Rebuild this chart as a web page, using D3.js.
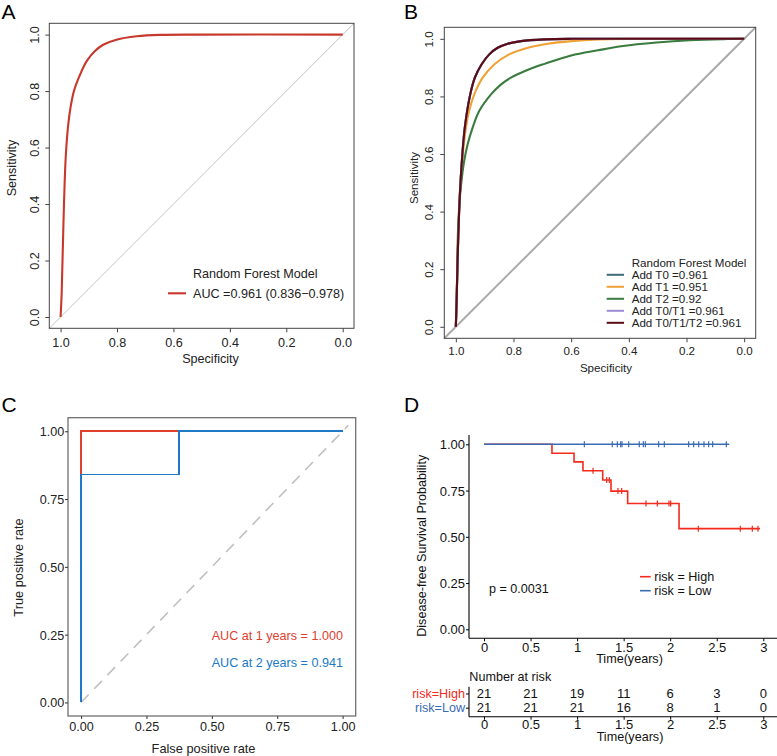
<!DOCTYPE html>
<html><head><meta charset="utf-8">
<script src="https://cdn.jsdelivr.net/npm/d3@7"></script>
<style>body{margin:0;background:#fff} svg{display:block;font-family:"Liberation Sans",Arial,sans-serif}</style>
</head><body><svg id="fig" width="777" height="756"></svg>
<script>
// ---------- DATA ----------
// Panel A / B ROC tick values
const ticksAB = [1.0, 0.8, 0.6, 0.4, 0.2, 0.0];
// Panel A: Random Forest Model
const specA = [1, 0.996, 0.990, 0.982, 0.973, 0.965, 0.953, 0.931, 0.908, 0.879, 0.849, 0.802, 0.730, 0.648, 0.5, 0];
const sensA = [0, 0.089, 0.325, 0.562, 0.680, 0.740, 0.799, 0.858, 0.905, 0.941, 0.964, 0.982, 0.994, 0.999, 1, 1];
// Panel B series
const seriesNamesB = ["Add T0 =0.961", "Add T1 =0.951", "Add T2 =0.92", "Add T0/T1 =0.961", "Add T0/T1/T2 =0.961"];
const specT0 = [1, 0.997, 0.994, 0.986, 0.979, 0.969, 0.950, 0.934, 0.911, 0.884, 0.855, 0.820, 0.774, 0.693, 0.600, 0.45, 0];
const sensT0 = [0, 0.10, 0.229, 0.460, 0.576, 0.691, 0.807, 0.865, 0.911, 0.946, 0.969, 0.983, 0.992, 0.998, 1, 1, 1];
const specT1 = [1, 0.997, 0.994, 0.986, 0.978, 0.965, 0.954, 0.936, 0.907, 0.867, 0.815, 0.750, 0.681, 0.600, 0.507, 0.40, 0];
const sensT1 = [0, 0.10, 0.229, 0.460, 0.576, 0.691, 0.749, 0.807, 0.865, 0.911, 0.946, 0.969, 0.983, 0.992, 0.998, 1, 1];
const specT2 = [1, 0.996, 0.992, 0.985, 0.979, 0.971, 0.959, 0.942, 0.919, 0.878, 0.843, 0.809, 0.756, 0.692, 0.600, 0.507, 0.420, 0.304, 0.188, 0.072, 0];
const sensT2 = [0, 0.15, 0.345, 0.46, 0.518, 0.576, 0.634, 0.691, 0.749, 0.807, 0.842, 0.865, 0.89, 0.913, 0.942, 0.960, 0.975, 0.987, 0.995, 0.999, 1];
const specT01 = [1, 0.997, 0.994, 0.986, 0.979, 0.969, 0.950, 0.934, 0.911, 0.884, 0.855, 0.820, 0.774, 0.693, 0.600, 0.45, 0];
const sensT01 = [0, 0.10, 0.229, 0.460, 0.576, 0.691, 0.807, 0.865, 0.911, 0.946, 0.969, 0.983, 0.992, 0.998, 1, 1, 1];
const specT012 = [1, 0.997, 0.994, 0.986, 0.979, 0.969, 0.950, 0.934, 0.911, 0.884, 0.855, 0.820, 0.774, 0.693, 0.600, 0.45, 0];
const sensT012 = [0, 0.10, 0.229, 0.460, 0.576, 0.691, 0.807, 0.865, 0.911, 0.946, 0.969, 0.983, 0.992, 0.998, 1, 1, 1];
// Panel C: time-dependent ROC
const ticksC = [0, 0.25, 0.5, 0.75, 1];
const fpr1y = [0, 0, 1];
const tpr1y = [0, 1, 1];
const fpr2y = [0, 0, 0.375, 0.375, 1];
const tpr2y = [0, 0.84, 0.84, 1, 1];
// Panel D: Kaplan-Meier
const ticksD_x = [0, 0.5, 1, 1.5, 2, 2.5, 3];
const ticksD_y = [0, 0.25, 0.5, 0.75, 1];
const highTimes = [0, 0.73, 0.967, 1.063, 1.275, 1.364, 1.543, 2.095, 2.965];
const highSurv  = [1, 0.952, 0.905, 0.857, 0.807, 0.747, 0.680, 0.544, 0.544];
const highCensor = [1.171, 1.318, 1.346, 1.439, 1.479, 1.740, 1.862, 1.987, 2.005, 2.302, 2.753, 2.882, 2.943];
const lowTimes = [0, 2.635];
const lowSurv  = [1, 1];
const lowCensor = [1.078, 1.378, 1.432, 1.468, 1.482, 1.554, 1.668, 1.711, 1.733, 1.876, 1.937, 2.198, 2.252, 2.306, 2.363, 2.413, 2.456, 2.603];
const riskHigh = [21, 21, 19, 11, 6, 3, 0];
const riskLow  = [21, 21, 21, 16, 8, 1, 0];

// ---------- DRAW ----------
const svg = d3.select("#fig");
svg.append("rect").attr("width", 777).attr("height", 756).attr("fill", "#fff");

function panelLabel(t, x, y) {
  svg.append("text").attr("x", x).attr("y", y).attr("font-size", 21).attr("fill", "#000").text(t);
}

function rocPanel(o) {
  const x = d3.scaleLinear().domain([1.04, -0.04]).range([o.l, o.r]);
  const y = d3.scaleLinear().domain([-0.04, 1.04]).range([o.b, o.t]);
  const g = svg.append("g");
  g.append("line").attr("x1", x(1.04)).attr("y1", y(-0.04)).attr("x2", x(-0.04)).attr("y2", y(1.04))
    .attr("stroke", o.diagColor).attr("stroke-width", o.diagW);
  const line = d3.line().curve(d3.curveCatmullRom.alpha(0.5));
  o.series.forEach(s => {
    const pts = s.spec.map((d, i) => [x(d), y(s.sens[i])]);
    g.append("path").attr("d", line(pts)).attr("fill", "none").attr("stroke", s.color).attr("stroke-width", 2.1);
  });
  g.append("rect").attr("x", o.l).attr("y", o.t).attr("width", o.r - o.l).attr("height", o.b - o.t)
    .attr("fill", "none").attr("stroke", "#444").attr("stroke-width", 1);
  const xa = g.append("g").attr("transform", `translate(0,${o.b})`)
    .call(d3.axisBottom(x).tickValues(ticksAB).tickFormat(d3.format(".1f")).tickSize(4).tickSizeOuter(0));
  xa.select(".domain").remove();
  xa.selectAll("line").attr("stroke", "#444");
  xa.selectAll("text").attr("y", o.xLabOff).attr("dy", "0.35em").attr("font-size", o.fs).attr("fill", "#222")
    .attr("font-family", "Liberation Sans, Arial, sans-serif");
  const ya = g.append("g").attr("transform", `translate(${o.l},0)`)
    .call(d3.axisLeft(y).tickValues(ticksAB).tickFormat(d3.format(".1f")).tickSize(4).tickSizeOuter(0));
  ya.select(".domain").remove();
  ya.selectAll("line").attr("stroke", "#444");
  ya.selectAll("text").attr("x", 0).attr("dy", "0.35em").attr("text-anchor", "middle")
    .attr("transform", `translate(${o.yLabOff},0) rotate(-90)`).attr("font-size", o.fs).attr("fill", "#222")
    .attr("font-family", "Liberation Sans, Arial, sans-serif");
  g.append("text").attr("x", o.xTitle[0]).attr("y", o.xTitle[1]).attr("dy", "0.35em").attr("text-anchor", "middle")
    .attr("font-size", o.fs).attr("fill", "#222").text("Specificity");
  g.append("text").attr("transform", `translate(${o.yTitle[0]},${o.yTitle[1]}) rotate(-90)`).attr("dy", "0.35em")
    .attr("text-anchor", "middle").attr("font-size", o.fs).attr("fill", "#222").text("Sensitivity");
  return {x, y, g};
}

// Panel A
const pA = rocPanel({l: 49.3, r: 354, t: 23.3, b: 328.3, diagColor: "#c4c4c4", diagW: 1, fs: 12.6,
  xLabOff: 14.4, yLabOff: -14.3, xTitle: [210.5, 359], yTitle: [11.5, 168],
  series: [{spec: specA, sens: sensA, color: "#c7392c"}]});
pA.g.append("text").attr("x", 193).attr("y", 274).attr("dy", "0.35em").attr("font-size", 12.6).attr("fill", "#222").text("Random Forest Model");
pA.g.append("line").attr("x1", 168).attr("x2", 186).attr("y1", 293.3).attr("y2", 293.3).attr("stroke", "#c7392c").attr("stroke-width", 2.1);
pA.g.append("text").attr("x", 193).attr("y", 293.3).attr("dy", "0.35em").attr("font-size", 12.6).attr("fill", "#222").text("AUC =0.961 (0.836\u22120.978)");
panelLabel("A", 1.5, 18.5);

// Panel B
const colorsB = ["#3e6b7a", "#eea236", "#3a7b3f", "#9d8bd6", "#5a0b13"];
const pB = rocPanel({l: 444.3, r: 755.7, t: 27.3, b: 338.3, diagColor: "#aaaaaa", diagW: 2, fs: 11.6,
  xLabOff: 12.8, yLabOff: -15, xTitle: [606, 367.7], yTitle: [413.5, 178],
  series: [
    {spec: specT0, sens: sensT0, color: colorsB[0]},
    {spec: specT1, sens: sensT1, color: colorsB[1]},
    {spec: specT2, sens: sensT2, color: colorsB[2]},
    {spec: specT01, sens: sensT01, color: colorsB[3]},
    {spec: specT012, sens: sensT012, color: colorsB[4]}
  ]});
pB.g.append("text").attr("x", 631.7).attr("y", 262.5).attr("dy", "0.35em").attr("font-size", 11.6).attr("fill", "#222").text("Random Forest Model");
seriesNamesB.forEach((n, i) => {
  const yy = 274.8 + i * 12;
  pB.g.append("line").attr("x1", 606.7).attr("x2", 624).attr("y1", yy).attr("y2", yy).attr("stroke", colorsB[i]).attr("stroke-width", 2);
  pB.g.append("text").attr("x", 631.7).attr("y", yy).attr("dy", "0.35em").attr("font-size", 11.6).attr("fill", "#222").text(n);
});
panelLabel("B", 404, 18.5);

// Panel C
(function () {
  const x = d3.scaleLinear().domain([-0.05, 1.05]).range([68, 355.7]);
  const y = d3.scaleLinear().domain([-0.05, 1.05]).range([716, 417.7]);
  const g = svg.append("g");
  g.append("line").attr("x1", x(0)).attr("y1", y(0)).attr("x2", x(1.022)).attr("y2", y(1.022))
    .attr("stroke", "#c0c0c0").attr("stroke-width", 1.6).attr("stroke-dasharray", "11,8");
  const line = d3.line();
  g.append("path").attr("d", line(fpr1y.map((d, i) => [x(d), y(tpr1y[i])]))).attr("fill", "none")
    .attr("stroke", "#e0402f").attr("stroke-width", 1.6).attr("shape-rendering", "crispEdges");
  g.append("path").attr("d", line(fpr2y.map((d, i) => [x(d), y(tpr2y[i])]))).attr("fill", "none")
    .attr("stroke", "#2079c7").attr("stroke-width", 1.6).attr("shape-rendering", "crispEdges");
  g.append("rect").attr("x", 68).attr("y", 417.7).attr("width", 355.7 - 68).attr("height", 716 - 417.7)
    .attr("fill", "none").attr("stroke", "#707070").attr("stroke-width", 1.3);
  const xa = g.append("g").attr("transform", "translate(0,716)")
    .call(d3.axisBottom(x).tickValues(ticksC).tickFormat(d3.format(".2f")).tickSize(3).tickSizeOuter(0));
  xa.select(".domain").remove();
  xa.selectAll("line").attr("stroke", "#333");
  xa.selectAll("text").attr("y", 10.7).attr("dy", "0.35em").attr("font-size", 12.6).attr("fill", "#222")
    .attr("font-family", "Liberation Sans, Arial, sans-serif");
  const ya = g.append("g").attr("transform", "translate(68,0)")
    .call(d3.axisLeft(y).tickValues(ticksC).tickFormat(d3.format(".2f")).tickSize(3).tickSizeOuter(0));
  ya.select(".domain").remove();
  ya.selectAll("line").attr("stroke", "#333");
  ya.selectAll("text").attr("x", -3.8).attr("dy", "0.35em").attr("font-size", 12.6).attr("fill", "#222")
    .attr("font-family", "Liberation Sans, Arial, sans-serif");
  g.append("text").attr("x", 203.5).attr("y", 748.3).attr("dy", "0.35em").attr("text-anchor", "middle")
    .attr("font-size", 12.8).attr("fill", "#222").text("False positive rate");
  g.append("text").attr("transform", "translate(18.3,567.5) rotate(-90)").attr("dy", "0.35em").attr("text-anchor", "middle")
    .attr("font-size", 12.8).attr("fill", "#222").text("True positive rate");
  g.append("text").attr("x", 211.7).attr("y", 635.7).attr("dy", "0.35em").attr("font-size", 12.6).attr("fill", "#e0402f").text("AUC at 1 years = 1.000");
  g.append("text").attr("x", 211.7).attr("y", 662.7).attr("dy", "0.35em").attr("font-size", 12.6).attr("fill", "#2079c7").text("AUC at 2 years = 0.941");
})();
panelLabel("C", 1.5, 411.7);

// Panel D
(function () {
  const x = d3.scaleLinear().domain([0, 3]).range([484, 763.3]);
  const y = d3.scaleLinear().domain([0, 1]).range([629.3, 444.3]);
  const g = svg.append("g");
  const red = "#f42a1c", blue = "#3a6cb4";
  const step = d3.line().curve(d3.curveStepAfter);
  const survAt = (times, surv, t) => surv[d3.bisectRight(times, t) - 1];
  g.append("path").attr("d", step(highTimes.map((d, i) => [x(d), y(highSurv[i])]))).attr("fill", "none")
    .attr("stroke", red).attr("stroke-width", 1.6);
  highCensor.forEach(t => {
    const yy = y(survAt(highTimes, highSurv, t));
    g.append("line").attr("x1", x(t)).attr("x2", x(t)).attr("y1", yy - 3).attr("y2", yy + 3).attr("stroke", red).attr("stroke-width", 1.2);
  });
  g.append("path").attr("d", step(lowTimes.map((d, i) => [x(d), y(lowSurv[i])]))).attr("fill", "none")
    .attr("stroke", blue).attr("stroke-width", 1.6);
  lowCensor.forEach(t => {
    const yy = y(survAt(lowTimes, lowSurv, t));
    g.append("line").attr("x1", x(t)).attr("x2", x(t)).attr("y1", yy - 3).attr("y2", yy + 3).attr("stroke", blue).attr("stroke-width", 1.2);
  });
  // axes
  g.append("line").attr("x1", 469).attr("x2", 469).attr("y1", 435).attr("y2", 638.3).attr("stroke", "#000").attr("stroke-width", 1.1);
  g.append("line").attr("x1", 469).attr("x2", 777).attr("y1", 638.3).attr("y2", 638.3).attr("stroke", "#000").attr("stroke-width", 1.1);
  const xa = g.append("g").attr("transform", "translate(0,638.3)")
    .call(d3.axisBottom(x).tickValues(ticksD_x).tickFormat(d => d).tickSize(3).tickSizeOuter(0));
  xa.select(".domain").remove();
  xa.selectAll("line").attr("stroke", "#000");
  xa.selectAll("text").attr("y", 9.4).attr("dy", "0.35em").attr("font-size", 13).attr("fill", "#111")
    .attr("font-family", "Liberation Sans, Arial, sans-serif");
  const ya = g.append("g").attr("transform", "translate(469,0)")
    .call(d3.axisLeft(y).tickValues(ticksD_y).tickFormat(d3.format(".2f")).tickSize(3).tickSizeOuter(0));
  ya.select(".domain").remove();
  ya.selectAll("line").attr("stroke", "#000");
  ya.selectAll("text").attr("x", -4).attr("dy", "0.35em").attr("font-size", 13).attr("fill", "#111")
    .attr("font-family", "Liberation Sans, Arial, sans-serif");
  g.append("text").attr("x", 629.5).attr("y", 659).attr("dy", "0.35em").attr("text-anchor", "middle")
    .attr("font-size", 12.6).attr("fill", "#111").text("Time(years)");
  g.append("text").attr("transform", "translate(421.7,545.8) rotate(-90)").attr("dy", "0.35em").attr("text-anchor", "middle")
    .attr("font-size", 12.6).attr("fill", "#111").text("Disease-free Survival Probability");
  g.append("text").attr("x", 489).attr("y", 588.3).attr("dy", "0.35em").attr("font-size", 12.6).attr("fill", "#111").text("p = 0.0031");
  [["risk = High", red, 576.7], ["risk = Low", blue, 590.7]].forEach(([t, c, yy]) => {
    g.append("line").attr("x1", 640).attr("x2", 650.7).attr("y1", yy).attr("y2", yy).attr("stroke", c).attr("stroke-width", 1.6);
    g.append("text").attr("x", 654.3).attr("y", yy).attr("dy", "0.35em").attr("font-size", 12.6).attr("fill", "#111").text(t);
  });
  // risk table
  g.append("text").attr("x", 469.3).attr("y", 676.7).attr("dy", "0.35em").attr("font-size", 12.6).attr("fill", "#111").text("Number at risk");
  const rowY = d3.scalePoint().domain(["risk=High", "risk=Low"]).range([693.5, 707.7]);
  g.append("line").attr("x1", 469).attr("x2", 469).attr("y1", 686.7).attr("y2", 716.7).attr("stroke", "#000").attr("stroke-width", 1.1);
  g.append("line").attr("x1", 469).attr("x2", 777).attr("y1", 716.7).attr("y2", 716.7).attr("stroke", "#000").attr("stroke-width", 1.1);
  const ra = g.append("g").attr("transform", "translate(469,0)")
    .call(d3.axisLeft(rowY).tickSize(3).tickFormat(""));
  ra.select(".domain").remove();
  ra.selectAll("line").attr("stroke", "#000");
  [["risk=High", red, riskHigh], ["risk=Low", blue, riskLow]].forEach(([name, c, vals]) => {
    g.append("text").attr("x", 465).attr("y", rowY(name)).attr("dy", "0.35em").attr("text-anchor", "end")
      .attr("font-size", 12.6).attr("fill", c).text(name);
    vals.forEach((v, i) => {
      g.append("text").attr("x", x(ticksD_x[i])).attr("y", rowY(name)).attr("dy", "0.35em").attr("text-anchor", "middle")
        .attr("font-size", 13).attr("fill", "#111").text(v);
    });
  });
  const ta = g.append("g").attr("transform", "translate(0,716.7)")
    .call(d3.axisBottom(x).tickValues(ticksD_x).tickFormat(d => d).tickSize(3).tickSizeOuter(0));
  ta.select(".domain").remove();
  ta.selectAll("line").attr("stroke", "#000");
  ta.selectAll("text").attr("y", 7.6).attr("dy", "0.35em").attr("font-size", 13).attr("fill", "#111")
    .attr("font-family", "Liberation Sans, Arial, sans-serif");
  g.append("text").attr("x", 630).attr("y", 737).attr("dy", "0.35em").attr("text-anchor", "middle")
    .attr("font-size", 12.6).attr("fill", "#111").text("Time(years)");
})();
panelLabel("D", 404, 411.7);
</script></body></html>
